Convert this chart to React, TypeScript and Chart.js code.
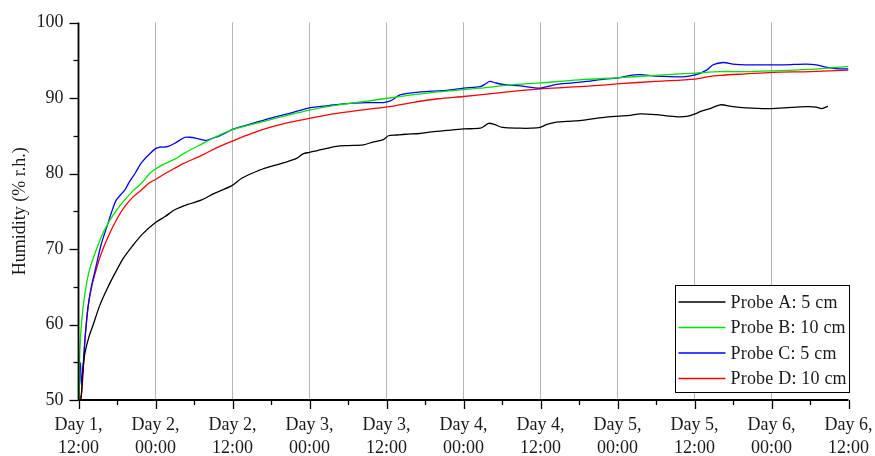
import { useEffect, useRef } from "react";
import { Chart, registerables } from "chart.js";

Chart.register(...registerables);

// Elapsed time in hours since Day 1, 12:00; humidity in % r.h.
const hoursA = [0.4, 0.7, 1.0, 1.6, 2.3, 3.3, 4.5, 5.7, 7, 8.5, 10, 12, 13.5, 15, 17, 19.2, 21, 23.9, 25.5, 27.8, 29.5, 31.9, 34, 35, 36, 38, 40.2, 42, 44.4, 46, 47.5, 48.3, 49.6, 51, 53.2, 55, 57.4, 60, 62.6, 63.3, 63.9, 64.8, 66.1, 68.8, 70.5, 71.9, 73, 74.5, 76, 78.1, 80.7, 82.5, 84.4, 86, 87.5, 90, 92, 93.7, 95, 96.1, 97.2, 98.4, 100, 102, 104, 107.2, 110, 113.4, 115, 115.8, 116.8];
const humidityA = [50, 54, 56.2, 58.3, 60, 62.5, 64.8, 66.8, 68.8, 70.5, 72, 73.5, 74.3, 75.2, 75.9, 76.5, 77.3, 78.4, 79.4, 80.3, 80.8, 81.4, 82, 82.6, 82.8, 83.2, 83.6, 83.7, 83.8, 84.2, 84.5, 85.0, 85.1, 85.2, 85.3, 85.5, 85.7, 85.9, 86.0, 86.3, 86.65, 86.5, 86.1, 86.0, 86.0, 86.1, 86.5, 86.8, 86.9, 87.0, 87.3, 87.5, 87.6, 87.7, 87.9, 87.8, 87.6, 87.5, 87.6, 87.9, 88.3, 88.6, 89.1, 88.85, 88.7, 88.6, 88.7, 88.85, 88.8, 88.6, 88.9];

const hoursB = [0.1, 0.2, 0.5, 1.0, 1.7, 2.6, 3.5, 4.6, 6, 7.2, 8.5, 9.8, 11.1, 12, 13.5, 15, 16.3, 19.2, 21.5, 24, 27, 29.8, 33, 36, 39, 42.3, 45, 48.5, 52, 56, 62.6, 67, 71.9, 78, 84.4, 90, 96.1, 100, 104, 108, 114, 120];
const humidityB = [50, 56.2, 60.5, 64.1, 67.2, 69.5, 71.5, 73.4, 75.2, 76.5, 77.7, 78.7, 80, 80.6, 81.3, 81.9, 82.6, 83.9, 84.9, 85.8, 86.5, 87.1, 87.8, 88.4, 88.9, 89.3, 89.6, 90.0, 90.4, 90.8, 91.3, 91.7, 92.0, 92.4, 92.7, 93.0, 93.3, 93.5, 93.5, 93.6, 93.8, 94.2];

const hoursC = [0.1, 0.15, 0.3, 0.45, 0.75, 1.0, 1.5, 2.0, 2.6, 3.5, 4.6, 5.2, 5.9, 7.2, 8.0, 8.8, 9.8, 11.1, 12, 12.7, 13.2, 14, 15, 16.6, 17.3, 18.2, 19.2, 20, 21, 21.8, 23, 24, 27, 29.8, 33, 36, 39, 42.3, 45, 47.5, 48.5, 49, 50.1, 52.2, 55, 57.4, 60, 62.6, 63.5, 64.1, 65, 66.2, 68.8, 71.9, 73, 74.5, 77, 79.2, 82, 84.4, 86, 87.5, 90, 94.2, 96.1, 97.9, 98.9, 100.5, 102, 104, 107.2, 110, 113.4, 115, 116.5, 118, 120];
const humidityC = [50, 54.9, 54.9, 52, 54.9, 58, 62.4, 65, 67.2, 70.5, 73.4, 75, 76.5, 77.8, 79, 80, 81.4, 82.6, 83.3, 83.5, 83.5, 83.6, 84.0, 84.8, 84.8, 84.7, 84.5, 84.4, 84.7, 84.9, 85.4, 85.85, 86.6, 87.3, 88.0, 88.7, 89.0, 89.3, 89.4, 89.4, 89.6, 89.8, 90.4, 90.7, 90.9, 91.0, 91.3, 91.5, 91.9, 92.2, 92.0, 91.8, 91.6, 91.3, 91.5, 91.8, 92.0, 92.2, 92.5, 92.7, 93.0, 93.1, 92.9, 92.8, 93.05, 93.7, 94.4, 94.7, 94.5, 94.4, 94.4, 94.4, 94.5, 94.4, 94.1, 93.9, 93.85];

const hoursD = [0.2, 0.5, 0.8, 1.1, 1.5, 2.0, 2.6, 3.5, 4.6, 6, 7.2, 8.5, 9.8, 11.1, 12, 13.5, 15, 16.3, 19.2, 21.5, 24, 27, 29.8, 33, 36, 39, 42.3, 45, 48.5, 52, 56, 60, 63.6, 68, 72, 76, 80, 84.4, 90, 96.1, 98, 100, 104, 108.2, 114, 120];
const humidityD = [50, 51, 55, 59, 62.4, 64.8, 66.8, 69.3, 71.6, 74, 75.6, 76.9, 77.8, 78.8, 79.2, 80.0, 80.7, 81.3, 82.4, 83.4, 84.3, 85.3, 86.1, 86.8, 87.3, 87.8, 88.2, 88.5, 88.85, 89.4, 89.9, 90.2, 90.5, 90.9, 91.2, 91.4, 91.6, 91.9, 92.2, 92.5, 92.8, 93.0, 93.2, 93.4, 93.5, 93.7];

const seriesLabels = ["Probe A: 5 cm", "Probe B: 10 cm", "Probe C: 5 cm", "Probe D: 10 cm"];
const seriesColors = ["#000000", "#00e400", "#0000ff", "#ff0000"];

const tickHours = [0, 12, 24, 36, 48, 60, 72, 84, 96, 108, 120];
const tickLabels = [
  ["Day 1,", "12:00"],
  ["Day 2,", "00:00"],
  ["Day 2,", "12:00"],
  ["Day 3,", "00:00"],
  ["Day 3,", "12:00"],
  ["Day 4,", "00:00"],
  ["Day 4,", "12:00"],
  ["Day 5,", "00:00"],
  ["Day 5,", "12:00"],
  ["Day 6,", "00:00"],
  ["Day 6,", "12:00"],
];

const FONT = "'Liberation Serif', 'Times New Roman', serif";

const toPoints = (xs: number[], ys: number[]) => xs.map((x, i) => ({ x, y: ys[i] }));

// Axis lines, outward tick marks (major + minor) and the boxed legend
const axesAndLegend = {
  id: "axesAndLegend",
  afterDraw(chart: any) {
    const { ctx, chartArea } = chart;
    const { left, right, top, bottom } = chartArea;
    const xs = chart.scales.x;
    const ys = chart.scales.y;
    ctx.save();
    ctx.strokeStyle = "#000";
    ctx.lineWidth = 1.3;
    for (let h = 0; h <= 120; h += 6) {
      const px = Math.round(xs.getPixelForValue(h)) + 0.5;
      const len = h % 12 === 0 ? 9 : 5;
      ctx.beginPath();
      ctx.moveTo(px, bottom);
      ctx.lineTo(px, bottom + len);
      ctx.stroke();
    }
    for (let v = 50; v <= 100; v += 5) {
      const py = Math.round(ys.getPixelForValue(v)) + 0.5;
      const len = v % 10 === 0 ? 9 : 5;
      ctx.beginPath();
      ctx.moveTo(left, py);
      ctx.lineTo(left - len, py);
      ctx.stroke();
    }
    ctx.lineWidth = 1.8;
    ctx.beginPath();
    ctx.moveTo(left, top);
    ctx.lineTo(left, bottom);
    ctx.lineTo(right, bottom);
    ctx.stroke();

    // legend
    const boxW = 174;
    const boxH = 107;
    const bx = Math.round(right - boxW) + 0.5;
    const by = Math.round(bottom - 8 - boxH) + 0.5;
    ctx.fillStyle = "#fff";
    ctx.fillRect(bx, by, boxW, boxH);
    ctx.lineWidth = 1;
    ctx.strokeStyle = "#000";
    ctx.strokeRect(bx, by, boxW, boxH);
    ctx.font = `18px ${FONT}`;
    ctx.textBaseline = "middle";
    ctx.textAlign = "left";
    if ("letterSpacing" in ctx) ctx.letterSpacing = "0.2px";
    chart.data.datasets.forEach((ds: any, i: number) => {
      const cy = by + 16.5 + i * 25.5;
      ctx.strokeStyle = ds.borderColor;
      ctx.lineWidth = 1.3;
      ctx.beginPath();
      ctx.moveTo(bx + 3, cy);
      ctx.lineTo(bx + 50, cy);
      ctx.stroke();
      ctx.fillStyle = "#1a1a1a";
      ctx.fillText(ds.label, bx + 55, cy + 1);
    });
    ctx.restore();
  },
};

export default function App() {
  const canvasRef = useRef<HTMLCanvasElement | null>(null);

  useEffect(() => {
    if (!canvasRef.current) return;
    const seriesPoints = [
      toPoints(hoursA, humidityA),
      toPoints(hoursB, humidityB),
      toPoints(hoursC, humidityC),
      toPoints(hoursD, humidityD),
    ];
    const chart = new Chart(canvasRef.current, {
      type: "line",
      data: {
        datasets: seriesLabels.map((label, i) => ({
          label,
          data: seriesPoints[i],
          borderColor: seriesColors[i],
          backgroundColor: seriesColors[i],
          borderWidth: 1.3,
          pointRadius: 0,
          tension: 0.3,
          fill: false,
        })),
      },
      options: {
        animation: false,
        responsive: true,
        maintainAspectRatio: false,
        layout: { padding: { top: 22.5, right: 26.5, left: 0, bottom: 0 } },
        plugins: {
          legend: { display: false },
          tooltip: { enabled: false },
        },
        scales: {
          x: {
            type: "linear",
            min: 0,
            max: 120,
            afterBuildTicks: (scale: any) => {
              scale.ticks = tickHours.map((value) => ({ value }));
            },
            afterFit: (scale: any) => {
              scale.height = 56;
              scale.paddingLeft = 0;
              scale.paddingRight = 0;
            },
            ticks: {
              callback: (value: any) => tickLabels[tickHours.indexOf(Number(value))] ?? "",
              font: { family: FONT, size: 18, lineHeight: 1.28 },
              color: "#1a1a1a",
              padding: 14,
              maxRotation: 0,
              autoSkip: false,
            },
            grid: {
              drawTicks: false,
              lineWidth: 1,
              color: (ctx: any) =>
                ctx.tick && (ctx.tick.value === 0 || ctx.tick.value === 120) ? "rgba(0,0,0,0)" : "#b4b4b4",
            },
            border: { display: false },
          },
          y: {
            min: 50,
            max: 100,
            afterFit: (scale: any) => {
              scale.width = 78.5;
              scale.paddingTop = 0;
              scale.paddingBottom = 0;
            },
            ticks: {
              stepSize: 10,
              font: { family: FONT, size: 18 },
              color: "#1a1a1a",
              padding: 15,
            },
            grid: { display: false, drawTicks: false },
            border: { display: false },
            title: {
              display: true,
              text: "Humidity (% r.h.)",
              font: { family: FONT, size: 18 },
              color: "#1a1a1a",
              padding: { top: 9, bottom: 0 },
            },
          },
        },
      },
      plugins: [axesAndLegend],
    });
    return () => chart.destroy();
  }, []);

  return (
    <div style={{ position: "absolute", left: 0, top: 0, width: 875, height: 456, background: "#fff" }}>
      <canvas ref={canvasRef} />
    </div>
  );
}
